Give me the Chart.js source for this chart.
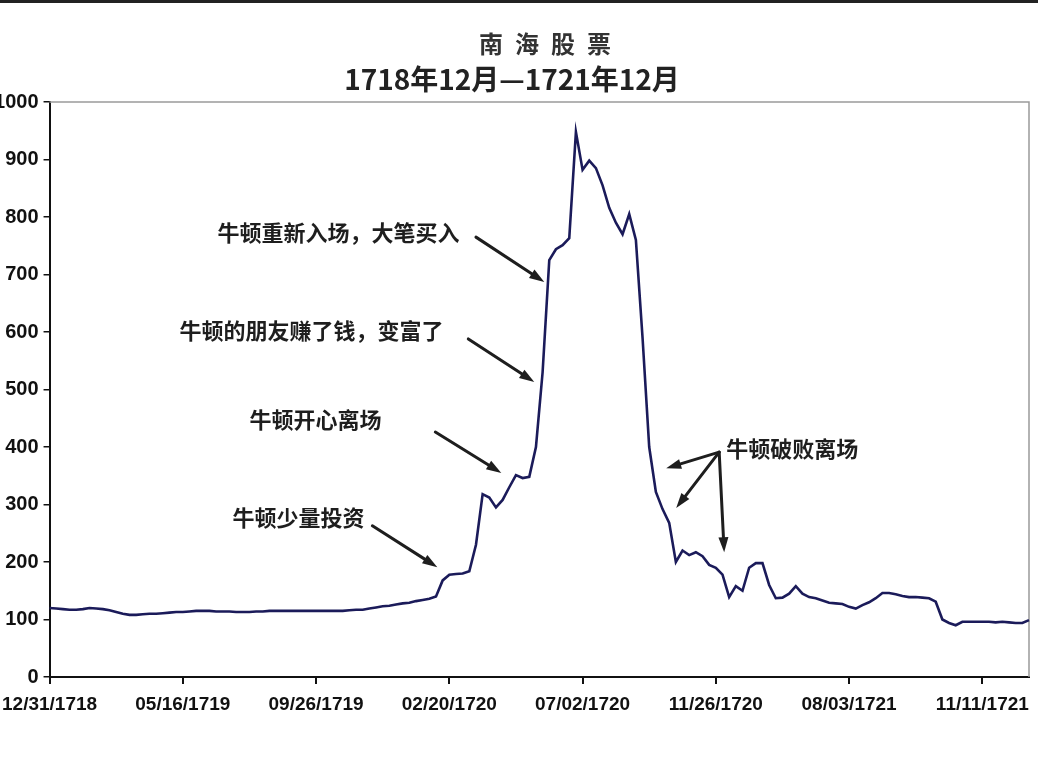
<!DOCTYPE html>
<html><head><meta charset="utf-8">
<script src="https://cdn.jsdelivr.net/npm/chart.js@4.4.1/dist/chart.umd.min.js"></script>
<style>
html,body{margin:0;padding:0;background:#fff;}
body{width:1038px;height:767px;overflow:hidden;position:relative;}
#wrap{position:absolute;left:-7px;top:0;width:1045px;height:767px;}
.t{position:absolute;font-family:"Noto Sans CJK SC";font-weight:700;color:#222;white-space:nowrap;transform:translateX(-50%);}
#t1{left:545px;top:26px;font-size:24px;letter-spacing:12px;padding-left:12px;line-height:34px;color:#333;}
#t2{left:512px;top:60px;font-size:28px;line-height:36px;}
#topbar{position:absolute;left:0;top:0;width:1038px;height:3px;background:#222;}
</style></head>
<body>
<div id="topbar"></div>
<div id="wrap"><canvas id="c"></canvas></div>
<div class="t" id="t1">南海股票</div>
<div class="t" id="t2">1718年12月—1721年12月</div>
<script>
// ---- data ----
const tickLabels = ['12/31/1718','05/16/1719','09/26/1719','02/20/1720','07/02/1720','11/26/1720','08/03/1721','11/11/1721'];
const tickEvery = 20;
const prices = [
 120,119,118,117,117,118,120,119,118,116,113,110,108,108,109,110,110,111,112,113,
 113,114,115,115,115,114,114,114,113,113,113,114,114,115,115,115,115,115,115,115,
 115,115,115,115,115,116,117,117,119,121,123,124,126,128,129,132,134,136,140,168,
 178,179,180,184,230,318,312,295,308,330,351,346,348,400,530,725,744,751,763,948,
 882,898,885,855,816,790,770,805,760,590,400,322,292,268,200,220,212,217,210,195,
 190,178,139,158,150,190,198,198,160,137,138,145,158,145,139,137,133,129,128,127,
 122,119,125,130,137,146,146,144,141,139,139,138,137,131,100,94,90,96,96,96,
 96,96,95,96,95,94,94,99
];
const yMin = 0, yMax = 1000, yStep = 100;
const notes = [
 {text:'牛顿重新入场，大笔买入', at:[25.2,772], arrows:[[[64.0,765],[74.25,687]]]},
 {text:'牛顿的朋友赚了钱，变富了', at:[19.5,603], arrows:[[[62.85,588],[72.75,513]]]},
 {text:'牛顿开心离场', at:[30.0,447], arrows:[[[57.9,426],[67.8,355]]]},
 {text:'牛顿少量投资', at:[27.45,278], arrows:[[[48.45,263],[58.2,191]]]},
 {text:'牛顿破败离场', at:[101.55,398], arrows:[[[100.5,391],[92.55,363]],[[100.5,391],[94.05,294]],[[100.5,391],[101.25,217]]]}
];

const labels = prices.map((_, i) => (i % tickEvery === 0 && tickLabels[i / tickEvery]) ? tickLabels[i / tickEvery] : '');

const frame = {
  id:'frame',
  beforeDatasetsDraw(chart){
    const {ctx, chartArea:a} = chart;
    ctx.save();
    ctx.strokeStyle = '#9a9a9a'; ctx.lineWidth = 1.5;
    ctx.beginPath(); ctx.moveTo(a.left, a.top); ctx.lineTo(a.right, a.top); ctx.lineTo(a.right, a.bottom); ctx.stroke();
    ctx.restore();
  }
};

function arrow(ctx, x1, y1, x2, y2){
  const ang = Math.atan2(y2 - y1, x2 - x1), L = 15, W = 5;
  const bx = x2 - L * Math.cos(ang), by = y2 - L * Math.sin(ang);
  ctx.beginPath(); ctx.moveTo(x1, y1); ctx.lineTo(bx, by); ctx.stroke();
  ctx.beginPath(); ctx.moveTo(x2, y2);
  ctx.lineTo(bx + W * Math.sin(ang), by - W * Math.cos(ang));
  ctx.lineTo(bx - W * Math.sin(ang), by + W * Math.cos(ang));
  ctx.closePath(); ctx.fill();
}

const annot = {
  id:'annot',
  afterDraw(chart){
    const {ctx} = chart, xs = chart.scales.x, ys = chart.scales.y;
    ctx.save();
    ctx.fillStyle = '#1e1e1e'; ctx.strokeStyle = '#1e1e1e'; ctx.lineWidth = 3; ctx.lineCap = 'round';
    ctx.font = 'bold 22px "Noto Sans CJK SC"'; ctx.textAlign = 'left'; ctx.textBaseline = 'middle';
    notes.forEach(n => {
      ctx.fillText(n.text, xs.getPixelForValue(n.at[0]), ys.getPixelForValue(n.at[1]));
      n.arrows.forEach(([p, q]) => arrow(ctx, xs.getPixelForValue(p[0]), ys.getPixelForValue(p[1]), xs.getPixelForValue(q[0]), ys.getPixelForValue(q[1])));
    });
    ctx.restore();
  }
};

const tickFont = {family:'"Liberation Sans", Arial, sans-serif', size:19, weight:'bold'};
const yTickFont = {family:'"Liberation Sans", Arial, sans-serif', size:20, weight:'bold'};

new Chart(document.getElementById('c'), {
  type:'line',
  data:{labels, datasets:[{data:prices, borderColor:'#1b1b5a', borderWidth:2.6, pointRadius:0, tension:0, fill:false}]},
  options:{
    responsive:true, maintainAspectRatio:false, animation:false,
    layout:{padding:{top:102, right:5, left:0, bottom:0}},
    plugins:{legend:{display:false}, tooltip:{enabled:false}, title:{display:false}},
    scales:{
      x:{
        type:'category', offset:false,
        grid:{drawOnChartArea:false, tickLength:7, lineWidth:2, color:c => (c.index % tickEvery === 0) ? '#111' : 'rgba(0,0,0,0)'},
        border:{color:'#111', width:2},
        ticks:{autoSkip:false, maxRotation:0, minRotation:0, padding:9, color:'#111', font:tickFont, callback:(v, i) => labels[i]},
        afterFit:s => { s.height = 90; }
      },
      y:{
        min:yMin, max:yMax,
        grid:{drawOnChartArea:false, tickLength:6, lineWidth:1.5, color:'#111'},
        border:{color:'#111', width:2},
        ticks:{stepSize:yStep, padding:5, color:'#111', font:yTickFont, callback:v => String(v)},
        afterFit:s => { s.width = 50; }
      }
    }
  },
  plugins:[frame, annot]
});
</script>
</body></html>
